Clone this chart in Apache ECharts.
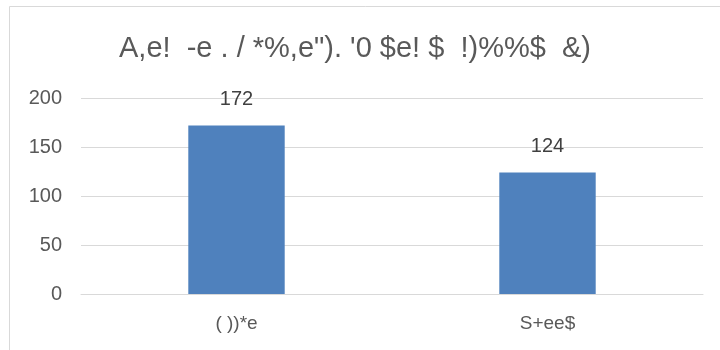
<!DOCTYPE html>
<html>
<head>
<meta charset="utf-8">
<script src="https://cdn.jsdelivr.net/npm/echarts@6/dist/echarts.min.js"></script>
<style>
  html, body { margin: 0; padding: 0; background: #ffffff; }
  #chart { width: 720px; height: 350px; }
</style>
</head>
<body>
<div id="chart"></div>
<script>
// Chart text and values
const titleText = 'A,e!  -e . / *%,e"). \'0 $e! $  !)%%$  &)';
const categories = ['( ))*e', 'S+ee$'];
const values = [172, 124];
const yTicks = [0, 50, 100, 150, 200];

const font = '"Liberation Sans", Arial, sans-serif';

const chart = echarts.init(document.getElementById('chart'), null, { renderer: 'canvas' });

chart.setOption({
  backgroundColor: '#ffffff',
  animation: false,
  title: {
    text: titleText,
    left: 114,
    top: 29,
    textStyle: {
      fontFamily: font,
      fontWeight: 'normal',
      fontSize: 29,
      color: '#595959'
    }
  },
  graphic: [{
    type: 'rect',
    shape: { x: 9.5, y: 6.5, width: 740, height: 400 },
    style: { fill: 'none', stroke: '#d9d9d9', lineWidth: 1 },
    silent: true
  }],
  grid: { left: 81, right: 17, top: 98, bottom: 56, containLabel: false },
  xAxis: {
    type: 'category',
    data: categories,
    axisLine: { show: true, lineStyle: { color: '#d9d9d9', width: 1 } },
    axisTick: { show: false },
    axisLabel: {
      margin: 20,
      fontFamily: font,
      fontSize: 19,
      color: '#595959'
    }
  },
  yAxis: {
    type: 'value',
    min: yTicks[0],
    max: yTicks[yTicks.length - 1],
    interval: yTicks[1] - yTicks[0],
    axisLine: { show: false },
    axisTick: { show: false },
    splitLine: { lineStyle: { color: '#d9d9d9', width: 1 } },
    axisLabel: {
      margin: 19,
      fontFamily: font,
      fontSize: 20,
      color: '#595959'
    }
  },
  series: [{
    type: 'bar',
    data: values,
    barWidth: '31%',
    itemStyle: { color: '#4f81bd' },
    label: {
      show: true,
      position: 'top',
      distance: 16,
      fontFamily: font,
      fontSize: 20,
      color: '#404040'
    }
  }]
});
</script>
</body>
</html>
